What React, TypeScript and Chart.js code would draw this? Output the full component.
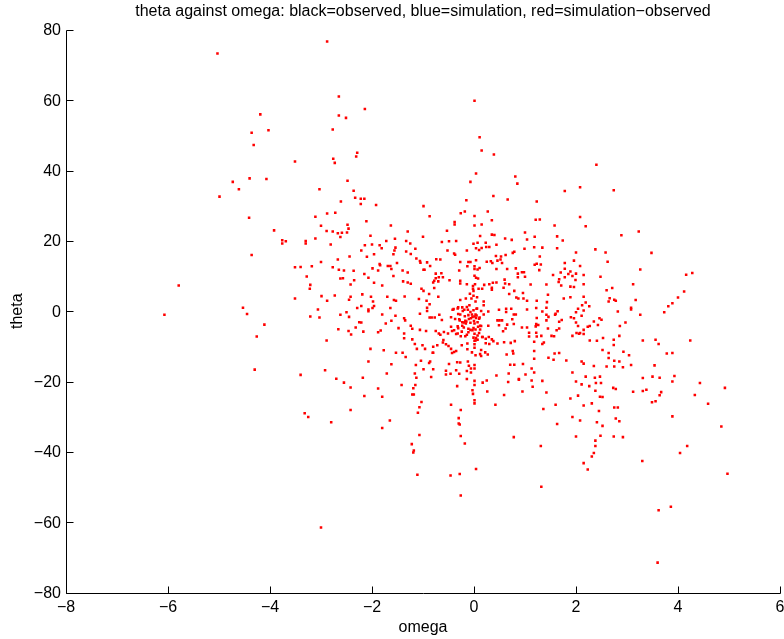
import { useEffect, useRef } from "react";
import { Chart, registerables } from "chart.js";

Chart.register(...registerables);

const TITLE = "theta against omega: black=observed, blue=simulation, red=simulation\u2212observed";
const X_LABEL = "omega";
const Y_LABEL = "theta";
const X_TICKS = [-8, -6, -4, -2, 0, 2, 4, 6];
const Y_TICKS = [-80, -60, -40, -20, 0, 20, 40, 60, 80];
const X_RANGE = [-8, 6];
const Y_RANGE = [-80, 80];

type Pt = [number, number];

// [omega, theta] pairs, grouped by where they sit in the cloud
const farWest: Pt[] = [
  [-5.03, 73.3], [-4.19, 56.0], [-4.03, 51.5], [-4.36, 50.8], [-4.32, 47.3], [-3.51, 42.6],
  [-4.40, 37.8], [-4.07, 37.6], [-4.73, 36.8], [-4.61, 34.7], [-4.99, 32.6], [-4.41, 26.6],
  [-3.92, 23.0], [-3.76, 20.2], [-3.76, 19.3], [-3.69, 19.9], [-4.36, 16.0], [-3.51, 12.5],
  [-3.40, 12.6], [-5.79, 7.3], [-3.51, 3.6], [-4.53, 1.0], [-4.45, -0.8], [-6.07, -1.0],
  [-4.11, -3.8], [-4.26, -7.2], [-4.30, -16.6], [-3.40, -18.1],
];

const upperBand: Pt[] = [
  [-2.88, 76.7], [-2.65, 61.1], [-2.14, 57.5], [-2.65, 55.7], [-2.51, 55.0], [-2.77, 51.7],
  [-2.29, 45.1], [-2.31, 44.0], [-2.76, 43.4], [-2.73, 42.2], [-2.48, 37.1], [-3.03, 34.7],
  [-2.36, 34.3], [-2.33, 32.3], [-2.61, 31.2], [-2.22, 32.0], [-2.15, 32.0], [-2.22, 30.5],
  [-1.92, 30.2], [-3.11, 26.9], [-2.88, 27.8], [-2.72, 28.0], [-0.99, 29.9], [-0.87, 27.0],
  [0.01, 59.9], [0.11, 49.5], [0.15, 45.7], [0.39, 44.6], [0.04, 39.2], [-0.07, 36.8],
  [0.81, 38.3], [0.85, 36.3], [0.38, 32.8], [0.66, 31.8], [1.23, 31.2], [-0.15, 31.6],
  [0.27, 28.4], [-0.26, 27.9], [-0.18, 28.4], [0.01, 27.1],
  [2.40, 41.7], [2.08, 35.3], [1.78, 34.2], [2.74, 34.4], [2.08, 26.8],
];

const lowerBand: Pt[] = [
  [-3.32, -29.0], [-3.25, -30.1], [-2.42, -28.1], [-2.80, -31.6], [-1.07, -27.3], [-1.10, -28.9],
  [-1.65, -31.1], [-1.80, -33.2], [-1.07, -35.2], [-1.22, -37.8], [-1.18, -39.6], [-1.19, -40.2],
  [-1.11, -46.5], [-0.26, -28.1], [-0.30, -30.4], [-0.30, -31.9], [-0.28, -32.2], [-0.26, -35.5],
  [-0.18, -37.6], [0.78, -35.8], [1.31, -38.3], [0.04, -44.9], [-0.28, -46.3], [-0.46, -46.7],
  [1.32, -49.9], [-0.26, -52.4], [-3.0, -61.5],
  [1.36, -27.8], [1.93, -30.1], [2.08, -31.1], [1.63, -32.1], [2.45, -28.4], [2.75, -27.4],
  [2.82, -27.4], [2.41, -31.6], [2.78, -30.5], [2.85, -31.3], [2.52, -32.6], [2.0, -35.6],
  [2.48, -35.4], [2.74, -35.6], [2.92, -35.8], [2.38, -36.8], [2.38, -38.3], [2.35, -40.3],
  [2.31, -41.3], [2.15, -43.2], [2.23, -45.0], [3.30, -42.6], [3.89, -29.9], [4.85, -32.8],
  [4.18, -38.3], [4.04, -40.3], [4.97, -46.2], [3.62, -56.6], [3.86, -55.6], [3.60, -71.5],
];

const eastCloud: Pt[] = [
  [1.58, 24.4], [2.19, 24.2], [1.63, 21.3], [1.74, 20.1], [2.89, 21.6], [3.23, 22.7], [1.34, 18.1],
  [1.63, 17.9], [2.00, 16.7], [2.38, 17.6], [2.58, 16.7], [3.48, 16.6], [1.96, 14.4], [2.62, 14.1],
  [1.78, 13.7], [1.78, 12.1], [2.08, 12.9], [1.70, 11.0], [1.89, 11.3], [1.85, 10.6], [2.0, 10.7],
  [1.55, 10.3], [1.93, 10.0], [2.15, 10.3], [1.78, 9.7], [1.99, 8.9], [3.26, 11.9], [2.48, 9.8],
  [4.16, 10.4], [4.28, 10.9], [1.67, 9.1], [1.66, 8.3], [1.42, 7.6], [1.71, 7.3], [1.89, 7.0],
  [1.96, 6.9], [2.15, 7.7], [3.12, 7.7], [2.60, 6.0], [2.71, 6.6], [4.12, 5.6], [4.0, 3.9],
  [1.45, 4.7], [1.76, 3.6], [1.89, 4.0], [2.15, 4.1], [2.66, 3.7], [2.64, 2.8], [2.75, 3.3],
  [2.78, 3.0], [3.17, 3.2], [3.89, 2.3], [3.81, 1.4], [1.43, 2.6], [2.19, 2.5], [2.26, 1.4],
  [2.12, 1.7], [2.04, 0.7], [2.15, 0.2], [1.42, 1.0], [1.34, -0.1], [1.64, 0.0], [2.0, -0.3],
  [2.82, -0.1], [3.08, 1.0], [3.08, 0.5], [3.73, -0.3], [1.60, -0.7], [1.59, -1.0], [1.42, -1.0],
  [1.46, -1.6], [1.42, -2.6], [3.26, -1.0], [2.11, -1.3], [1.90, -1.7], [1.96, -2.0], [1.72, -2.5],
  [1.67, -3.0], [2.00, -3.2], [2.04, -4.2], [2.46, -2.0], [2.50, -2.4], [2.35, -2.9], [2.97, -3.2],
  [2.23, -4.4], [2.27, -4.2], [2.43, -3.9], [2.86, -4.2], [1.45, -4.9], [1.67, -4.9], [1.62, -5.4],
  [2.15, -5.3], [2.01, -6.2], [2.06, -6.4], [2.08, -6.2], [2.15, -6.5], [1.93, -7.0], [1.52, -7.0],
  [1.57, -7.1], [2.85, -7.0], [2.53, -7.6], [2.27, -8.3], [2.41, -8.4], [2.74, -8.1], [2.74, -9.6],
  [3.31, -8.3], [3.56, -8.1], [3.62, -9.3], [4.24, -8.3], [1.34, -9.3], [1.37, -8.9], [2.52, -11.0],
  [2.93, -11.5], [3.04, -12.5], [2.64, -11.9], [2.64, -13.3], [2.75, -14.1], [2.85, -14.3],
  [3.78, -12.0], [3.89, -11.9], [1.58, -12.0], [1.67, -11.9], [1.46, -13.2], [1.56, -13.8],
  [1.81, -14.0], [2.11, -14.3], [2.15, -14.9], [2.35, -15.6], [2.60, -15.7], [2.75, -15.7],
  [2.92, -15.9], [3.08, -15.3], [3.54, -15.4], [1.93, -17.4], [2.19, -18.6], [2.37, -18.9],
  [2.47, -18.6], [3.31, -19.0], [3.50, -18.6], [3.64, -18.9], [3.93, -18.4], [3.89, -20.0],
  [1.34, -19.8], [2.0, -20.0], [2.11, -20.8], [2.39, -20.4], [2.49, -20.4], [2.26, -21.3],
  [2.38, -22.6], [2.73, -21.8], [2.78, -22.1], [4.43, -20.4], [4.92, -21.8], [1.42, -23.1],
  [2.04, -24.0], [1.89, -24.8], [2.47, -24.3], [2.52, -24.4], [3.12, -22.9], [3.31, -22.7],
  [3.38, -22.3], [3.67, -23.0], [3.64, -23.9], [4.33, -23.8], [3.49, -25.9], [3.56, -25.6],
  [4.59, -26.3], [1.60, -26.6], [2.15, -26.8], [2.31, -26.2],
];

const coreUpper: Pt[] = [
  [-2.11, 25.6], [-3.00, 24.3], [-2.48, 24.6], [-2.46, 23.5], [-2.89, 22.8], [-2.77, 22.7],
  [-2.67, 22.2], [-2.59, 22.3], [-2.49, 22.4], [-2.62, 21.1], [-1.63, 24.4], [-2.03, 21.5],
  [-1.30, 22.7], [-1.00, 21.2], [-0.53, 22.9], [-0.38, 25.4], [-0.38, 24.7], [0.01, 24.4],
  [0.15, 24.7], [0.35, 25.9], [1.21, 26.0], [1.29, 26.1], [0.12, 21.4], [0.35, 21.8],
  [0.40, 21.7], [0.61, 20.7], [1.00, 22.4], [1.19, 21.2], [-3.11, 20.7],
  [-3.30, 20.0], [-3.30, 19.3], [-2.81, 19.0], [-2.14, 18.8], [-2.0, 19.0], [-1.72, 20.0],
  [-1.55, 20.6], [-1.85, 18.8], [-1.81, 17.9], [-2.21, 17.3], [-1.33, 20.0], [-1.25, 19.3],
  [-1.15, 17.8], [-1.54, 18.1], [-1.56, 17.3], [-1.58, 16.2], [-1.33, 17.0], [-1.24, 16.3],
  [-2.10, 15.5], [-1.96, 16.2], [-2.44, 15.6], [-2.67, 14.7], [-0.63, 19.7], [-0.49, 19.9],
  [-0.35, 20.0], [-0.52, 17.3], [-0.39, 16.4], [-0.37, 16.1], [-0.14, 17.3], [-0.01, 19.2],
  [0.07, 19.5], [0.23, 19.5], [0.04, 17.9], [0.10, 17.4], [0.15, 18.0], [0.24, 18.3],
  [0.30, 18.3], [0.44, 18.9], [0.74, 20.3], [1.04, 20.4], [0.76, 16.6], [0.79, 16.9],
  [0.62, 16.0], [0.53, 15.6], [0.43, 15.7], [0.99, 17.8], [1.18, 18.2], [1.29, 15.6],
  [-3.18, 12.8], [-3.00, 14.0], [-2.77, 12.5], [-2.65, 11.8], [-2.55, 11.6], [-2.36, 11.5],
  [-2.15, 10.6], [-1.99, 12.2], [-1.85, 13.4], [-1.84, 13.1], [-1.88, 11.6], [-1.69, 12.9],
  [-1.64, 12.9], [-1.62, 12.0], [-1.51, 13.7], [-1.40, 11.6], [-1.30, 11.0], [-1.13, 15.0],
  [-1.06, 14.3], [-1.05, 13.8], [-0.99, 11.8], [-0.97, 11.8], [-0.92, 13.9], [-0.86, 12.9],
  [-0.74, 14.8], [-0.66, 14.7], [-0.75, 10.7], [-0.64, 10.8], [-0.69, 9.7], [-0.61, 9.7],
  [-0.27, 14.0], [-0.11, 14.0], [-0.07, 14.0], [0.04, 14.5], [0.01, 12.8], [0.07, 11.9],
  [0.01, 12.0], [-0.29, 11.6], [-0.13, 12.8], [0.11, 12.3], [0.25, 14.1], [0.33, 14.2],
  [0.36, 13.7], [0.46, 14.4], [0.52, 14.7], [0.55, 13.7], [0.44, 12.0], [0.65, 12.0],
  [0.82, 12.2], [0.94, 11.1], [0.86, 10.7], [0.98, 11.1], [0.86, 9.7], [1.31, 13.3],
  [1.19, 13.2], [1.23, 13.5], [1.28, 11.7], [1.00, 9.8], [0.01, 10.1], [0.04, 9.5], [0.08, 9.3],
];

const coreMiddle: Pt[] = [
  [-3.28, 9.9], [-3.21, 7.5], [-3.22, 6.4], [-2.62, 9.3], [-2.57, 9.4], [-2.35, 8.8],
  [-2.42, 7.6], [-2.07, 9.5], [-1.96, 8.1], [-1.80, 7.3], [-1.58, 10.0], [-1.39, 8.5],
  [-1.30, 8.2], [-1.24, 7.8], [-1.03, 6.4], [-0.99, 5.8], [-0.80, 8.2], [-0.78, 8.7],
  [-0.75, 9.4], [-0.70, 8.5], [-0.78, 6.6], [-0.70, 4.1], [-0.88, 4.9], [-0.48, 8.8],
  [-0.27, 8.7], [-0.27, 7.9], [-0.14, 7.7], [-0.02, 7.2], [-0.02, 6.4], [-0.01, 5.8],
  [0.02, 7.7], [0.09, 6.4], [0.16, 6.4], [0.20, 7.5], [0.30, 7.7], [0.35, 6.7], [0.35, 6.1],
  [0.37, 8.1], [0.44, 8.2], [0.60, 9.0], [0.61, 7.9], [0.58, 6.7], [0.69, 7.7], [0.79, 5.8],
  [0.83, 3.9], [0.69, 4.9], [0.87, 3.6], [0.97, 3.6], [0.96, 5.2], [1.11, 7.6], [1.23, 3.0],
  [1.04, 3.0], [-2.99, 4.3], [-2.88, 3.0], [-2.73, 4.5], [-2.42, 4.1], [-2.45, 3.3],
  [-2.19, 4.8], [-2.02, 4.1], [-1.98, 2.8], [-1.70, 4.1], [-1.57, 3.2], [-1.53, 3.0],
  [-1.36, 4.2], [-1.08, 3.5], [-0.93, 3.0], [-0.87, 2.0], [-0.27, 3.2], [-0.16, 3.6],
  [-0.08, 5.0], [-0.05, 3.6], [-0.01, 4.4], [0.03, 2.8], [0.06, 4.0], [0.19, 2.8], [0.19, 1.7],
  [-0.09, 1.7], [-0.23, 1.1], [-0.31, 1.1], [-0.42, 0.4], [-0.19, 0.4], [-0.12, 0.4],
  [0.05, 0.7], [0.28, -0.1], [0.49, 0.4], [0.63, 0.7], [0.63, -0.2], [0.82, -0.9], [0.78, -0.9],
  [0.73, 0.7], [1.04, 0.5], [1.22, 0.9], [1.23, -1.9],
  [-3.21, -1.5], [-3.03, -1.8], [-3.06, 0.5], [-2.62, -1.0], [-2.50, -0.3], [-2.45, -1.6],
  [-2.29, 0.9], [-2.21, 1.5], [-2.07, 0.5], [-2.07, 0.0], [-1.96, 1.5], [-1.99, 0.9],
  [-1.64, 0.9], [-1.80, -0.9], [-1.54, -1.3], [-1.37, -2.0], [-1.35, -2.6], [-1.06, -0.7],
  [-0.92, 1.0], [-0.92, 0.1], [-0.87, -1.8], [-0.83, -1.8], [-0.77, -1.8], [-0.68, -1.0],
  [-0.63, -2.5], [-0.45, -1.7], [-0.31, -0.8], [-0.29, -2.3], [-0.20, -3.2], [-0.17, -2.7],
  [-0.16, -3.5], [-0.23, -4.1], [-0.10, -2.2], [-0.06, -2.0], [-0.04, -0.9], [0.03, -0.9],
  [0.01, -1.5], [0.04, -1.9], [0.00, -2.8], [0.10, -2.1], [0.08, -4.4], [0.14, -4.2],
  [0.12, -5.2], [0.28, -4.1], [0.46, -2.6], [0.50, -2.6], [0.49, -4.0], [0.55, -2.6],
  [0.62, -4.9], [0.57, -5.7], [0.65, -3.8], [0.75, -2.3], [0.78, -3.6], [0.94, -4.6],
  [1.04, -4.6], [1.22, -3.6], [1.21, -4.3], [1.26, -3.9], [1.08, -6.1], [1.22, -6.1],
  [1.08, -7.2], [1.23, -7.2], [1.32, -7.0],
];

// the tight knot just left of omega = 0, slightly below theta = 0
const coreDense: Pt[] = [
  [-0.40, 0.6], [-0.32, 0.8], [-0.22, 0.1], [-0.14, 1.2], [-0.07, -0.2], [-0.01, 0.3],
  [0.06, 0.8], [0.14, 0.1], [0.19, -0.9], [-0.27, -0.9], [-0.18, -1.4], [-0.11, -1.1],
  [-0.03, -1.6], [0.05, -1.2], [0.11, -1.8], [-0.37, -2.2], [-0.28, -2.6], [-0.23, -3.1],
  [-0.15, -2.9], [-0.07, -3.3], [0.01, -3.5], [0.07, -3.1], [0.12, -4.1], [-0.32, -4.3],
  [-0.20, -4.6], [-0.11, -5.0], [-0.03, -5.4], [0.03, -5.2], [0.10, -6.2], [-0.43, -5.6],
  [-0.35, -6.5], [-0.26, -7.1], [-0.14, -6.7], [-0.01, -7.5], [0.07, -8.1], [0.16, -7.3],
];

const coreLower: Pt[] = [
  [-2.66, -5.1], [-2.46, -5.6], [-2.41, -6.6], [-2.32, -4.6], [-2.25, -3.1], [-2.21, -3.2],
  [-2.17, -5.8], [-1.88, -6.0], [-1.83, -5.5], [-1.73, -3.5], [-1.62, -2.7], [-1.48, -4.8],
  [-1.37, -6.3], [-1.24, -4.1], [-1.21, -5.0], [-1.06, -5.3], [-0.94, -5.6], [-0.75, -5.6],
  [-0.69, -6.3], [-0.66, -6.7], [-0.59, -5.9], [-0.51, -6.3], [-0.45, -4.4], [-0.39, -5.4],
  [-0.31, -4.8], [-0.32, -6.3], [-0.24, -5.8], [-0.17, -7.1], [-0.11, -6.0], [-0.07, -5.3],
  [-0.01, -4.8], [0.01, -6.4], [0.04, -7.6], [0.03, -8.3], [0.07, -6.9], [0.17, -7.3],
  [0.23, -7.8], [0.29, -7.3], [0.35, -8.0], [0.38, -8.5], [0.23, -9.1], [0.30, -9.3],
  [0.46, -9.2], [0.59, -8.8], [0.72, -9.0], [0.80, -8.5], [0.76, -11.3], [0.77, -12.0],
  [0.64, -12.3], [0.71, -15.2], [0.79, -15.2], [0.96, -15.0], [1.13, -16.3], [1.18, -17.4],
  [1.01, -18.0], [0.68, -17.7], [0.88, -19.5], [1.13, -19.7], [1.18, -13.5], [1.18, -11.3],
  [1.18, -8.7], [-2.89, -8.3], [-1.37, -7.7], [-1.21, -8.0], [-1.16, -9.3], [-1.01, -9.7],
  [-0.96, -10.7], [-0.80, -10.1], [-0.80, -11.8], [-0.72, -9.7], [-0.60, -8.2], [-0.61, -8.9],
  [-0.55, -9.4], [-0.50, -9.9], [-0.45, -10.7], [-0.43, -11.9], [-0.39, -11.6], [-0.35, -11.3],
  [-0.24, -9.7], [-0.13, -9.2], [-0.13, -10.8], [0.01, -8.4], [0.01, -9.4], [0.01, -10.4],
  [-0.04, -11.7], [0.03, -12.5], [0.12, -12.2], [0.14, -11.0], [0.22, -11.7], [0.27, -12.3],
  [-2.03, -10.7], [-1.77, -11.1], [-1.53, -11.8], [-1.40, -11.8], [-1.34, -13.0], [-1.12, -10.7],
  [-0.81, -11.8], [-2.07, -14.3], [-1.62, -15.1], [-1.14, -15.3], [-1.04, -14.1], [-0.86, -14.3],
  [-0.88, -14.7], [-0.99, -16.5], [-0.80, -16.5], [-0.49, -15.0], [-0.46, -17.8], [-0.55, -16.9],
  [-0.35, -16.8], [-0.33, -14.5], [-0.27, -14.6], [-0.12, -14.3], [-0.10, -15.5], [-0.06, -16.3],
  [-0.14, -17.0], [-0.06, -17.4], [0.01, -15.3], [0.01, -16.3], [0.14, -12.7], [0.44, -18.3],
  [0.67, -20.1], [0.88, -19.3], [-2.92, -16.8], [-2.70, -19.2], [-2.55, -20.3], [-2.18, -18.9],
  [-1.71, -17.7], [-1.16, -17.7], [-1.13, -18.9], [-0.84, -18.7], [-0.55, -18.0], [-0.29, -17.8],
  [0.17, -20.3], [0.25, -19.7], [0.01, -19.8], [0.01, -21.0], [-0.14, -19.3],
  [-2.42, -21.7], [-1.88, -22.0], [-1.42, -21.0], [-1.19, -21.9], [-1.15, -21.0], [-1.21, -23.7],
  [-1.18, -23.7], [-2.15, -24.1], [-1.80, -24.3], [-1.03, -25.8], [-0.45, -26.6], [-0.33, -21.3],
  [-0.03, -22.5], [-0.02, -23.5], [0.01, -25.3], [0.01, -26.2], [0.26, -22.8], [0.42, -26.6],
  [0.59, -23.8], [0.95, -22.8], [1.15, -21.5],
];

const allPoints: Pt[] = [
  ...farWest, ...upperBand, ...lowerBand, ...eastCloud,
  ...coreUpper, ...coreMiddle, ...coreDense, ...coreLower,
];

const FONT = '16px "Liberation Sans", Arial, Helvetica, sans-serif';
const MINUS = "\u2212";

const fmt = (v: number) => (v < 0 ? MINUS + String(-v) : String(v));

// Axes in the classic plotting style: left/bottom lines, ticks pointing inward
const classicAxes = {
  id: "classicAxes",
  afterDraw(chart: any) {
    const { ctx, chartArea: a, scales } = chart;
    const xs = scales.x;
    const ys = scales.y;
    const L = Math.round(a.left) + 0.5;
    const B = Math.round(a.bottom) + 0.5;
    const T = Math.round(a.top) + 0.5;
    const R = Math.round(a.right) + 0.5;
    const tick = 7;
    ctx.save();
    ctx.strokeStyle = "#000";
    ctx.lineWidth = 1;
    ctx.beginPath();
    ctx.moveTo(L, T);
    ctx.lineTo(L, B);
    ctx.lineTo(R, B);
    for (const v of X_TICKS) {
      const px = Math.round(xs.getPixelForValue(v)) + 0.5;
      ctx.moveTo(px, B);
      ctx.lineTo(px, B - tick);
    }
    for (const v of Y_TICKS) {
      const py = Math.round(ys.getPixelForValue(v)) + 0.5;
      ctx.moveTo(L, py);
      ctx.lineTo(L + tick, py);
    }
    ctx.stroke();

    ctx.fillStyle = "#000";
    ctx.font = FONT;
    ctx.textAlign = "center";
    ctx.textBaseline = "top";
    for (const v of X_TICKS) {
      ctx.fillText(fmt(v), xs.getPixelForValue(v), a.bottom + 7);
    }
    ctx.textAlign = "right";
    ctx.textBaseline = "middle";
    for (const v of Y_TICKS) {
      ctx.fillText(fmt(v), a.left - 5, ys.getPixelForValue(v) + 1);
    }

    const cx = (a.left + a.right) / 2;
    ctx.textAlign = "center";
    ctx.textBaseline = "middle";
    ctx.fillText(TITLE, cx, 12);
    ctx.fillText(X_LABEL, cx, a.bottom + 35);

    ctx.translate(18, (a.top + a.bottom) / 2);
    ctx.rotate(-Math.PI / 2);
    ctx.fillText(Y_LABEL, 0, 0);
    ctx.restore();
  },
};

export default function App() {
  const canvasRef = useRef<HTMLCanvasElement | null>(null);

  useEffect(() => {
    const canvas = canvasRef.current;
    if (!canvas) return;
    const chart = new Chart(canvas, {
      type: "scatter",
      data: {
        datasets: [
          {
            data: allPoints.map(([x, y]) => ({ x, y })),
            pointStyle: "rect",
            pointRadius: 1.8,
            backgroundColor: "#ff0000",
            borderWidth: 0,
          },
        ],
      },
      options: {
        responsive: false,
        animation: false,
        devicePixelRatio: 1,
        events: [],
        layout: { padding: { left: 66, top: 30, right: 4, bottom: 46.5 } },
        scales: {
          x: { type: "linear", min: X_RANGE[0], max: X_RANGE[1], display: false },
          y: { type: "linear", min: Y_RANGE[0], max: Y_RANGE[1], display: false },
        },
        plugins: {
          legend: { display: false },
          tooltip: { enabled: false },
          title: { display: false },
        },
      },
      plugins: [classicAxes],
    });
    return () => chart.destroy();
  }, []);

  return (
    <div style={{ position: "absolute", left: 0, top: 0, width: 784, height: 639, background: "#fff" }}>
      <canvas ref={canvasRef} width={784} height={639} style={{ display: "block" }} />
    </div>
  );
}
